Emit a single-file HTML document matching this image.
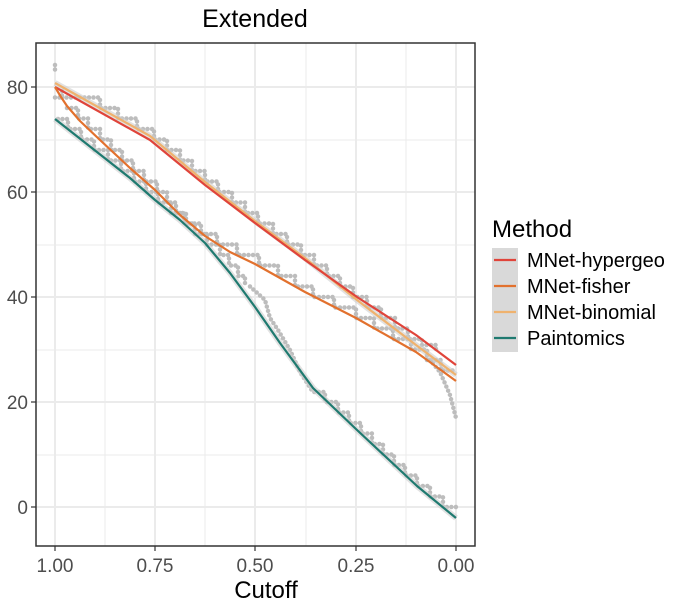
<!DOCTYPE html>
<html><head><meta charset="utf-8"><style>body{margin:0;background:#fff}svg{display:block;font-family:"Liberation Sans",Arial,sans-serif}</style></head>
<body>
<svg width="698" height="610" viewBox="0 0 698 610" xmlns="http://www.w3.org/2000/svg">
<rect width="698" height="610" fill="#fff"/>
<g stroke="#ebebeb" stroke-width="1">
<line x1="105" y1="43" x2="105" y2="546"/><line x1="205" y1="43" x2="205" y2="546"/><line x1="306" y1="43" x2="306" y2="546"/><line x1="406" y1="43" x2="406" y2="546"/>
<line x1="36" y1="140" x2="475" y2="140"/><line x1="36" y1="245" x2="475" y2="245"/><line x1="36" y1="350" x2="475" y2="350"/><line x1="36" y1="455" x2="475" y2="455"/>
</g>
<g stroke="#ebebeb" stroke-width="2">
<line x1="55" y1="43" x2="55" y2="546"/><line x1="155" y1="43" x2="155" y2="546"/><line x1="255" y1="43" x2="255" y2="546"/><line x1="356" y1="43" x2="356" y2="546"/><line x1="456" y1="43" x2="456" y2="546"/>
<line x1="36" y1="87" x2="475" y2="87"/><line x1="36" y1="192" x2="475" y2="192"/><line x1="36" y1="297" x2="475" y2="297"/><line x1="36" y1="402" x2="475" y2="402"/><line x1="36" y1="507" x2="475" y2="507"/>
</g>
<g fill="none" stroke="#bdbdbd" stroke-width="4.5" stroke-linecap="round" stroke-dasharray="0 4.5">
<path d="M55 97.5 H62 V87 M62 97.5 H100 V108 H118 V118.5 H137 V129 H154 V139.5 H167 V150 H180 V160.5 H192 V171 H205 V181.5 H218 V192 H232 V202.5 H245 V213 H258 V223.5 H273 V234 H287 V244.5 H301 V255 H314 V265.5 H327 V276 H340 V286.5 H353 V297 H367 V307.5 H381 V318 H395 V328.5 H408 V339 H422 V345 H436 V350 M430 360 L440 372 L450 395 L456 418"/>
<path d="M67 108 H78 V118.5 H88 V129 H100 V139.5 H111 V150 H122 V160.5 H133 V171 H144 V181.5 H157 V192 H167 V202.5 H176 V213 H186 V223.5 H201 V234 H217 V244.5 H237 V255 H259 V265.5 H278 V276 H295 V286.5 H313 V297 H334 V307.5 H356 V318 H374 V328.5 H393 V339 H411 V349.5 H427 V360 H441 V370.5 H456"/>
<path d="M58 119 H68 V129 H81 V139.5 H94 V150 H108 V160.5 H121 V171 H134 V181.5 H146 V192 H158 V202.5 H171 V213 H184 V223.5 H195 V234 H207 V244.5 H220 V255 H229 V265.5 H238 V276 H245 V286.5 M250 286.5 L265 300 L270 318 L278 330 L290 350 L300 372 L313 392 H325 V402 H338 V412.5 H349 V423 H361 V433.5 H372 V444 H383 V454.5 H394 V465 H405 V475.5 H417 V486 H430 V496.5 H443 V507 H456"/>
<path d="M55 65 V72"/>
</g>
<g fill="none" stroke-width="6" stroke="#cfcfcf" opacity="0.6" stroke-linejoin="round">
<polyline points="55,83 150,136 205,182 255,221 305,258 357,300 416,345 456,375"/>
<polyline points="55,119 130,178 155,200 180,220 205,243 230,273 255,307 280,343 313,388 357,430 417,486 456,518"/>
</g>
<g fill="none" stroke-width="2.2" stroke-linejoin="round">
<polyline stroke="#efb26e" points="55,83 150,136 205,182 255,221 305,258 357,300 416,345 456,375"/>
<polyline stroke="#e0443a" points="55,87 150,140 205,185 255,223 305,260 357,297 416,335 456,365"/>
<polyline stroke="#e2712e" points="55,87 61,97 67,106 80,121 100,140 130,168 155,190 180,215 205,236 230,252 255,264 280,278 305,292 356,318 416,352 456,381"/>
<polyline stroke="#1f7a70" points="55,119 130,178 155,200 180,220 205,243 230,273 255,307 280,343 313,388 357,430 417,486 456,518"/>
</g>
<rect x="36" y="43" width="439" height="503" fill="none" stroke="#333" stroke-width="1.5"/>
<g stroke="#333" stroke-width="1.2">
<line x1="31" y1="87" x2="36" y2="87"/><line x1="31" y1="192" x2="36" y2="192"/><line x1="31" y1="297" x2="36" y2="297"/><line x1="31" y1="402" x2="36" y2="402"/><line x1="31" y1="507" x2="36" y2="507"/>
<line x1="55" y1="546" x2="55" y2="551"/><line x1="155" y1="546" x2="155" y2="551"/><line x1="255" y1="546" x2="255" y2="551"/><line x1="356" y1="546" x2="356" y2="551"/><line x1="456" y1="546" x2="456" y2="551"/>
</g>
<g fill="#4d4d4d" font-size="19" text-anchor="end">
<text x="28" y="94">80</text><text x="28" y="199">60</text><text x="28" y="304">40</text><text x="28" y="409">20</text><text x="28" y="514">0</text>
</g>
<g fill="#4d4d4d" font-size="19" text-anchor="middle">
<text x="55" y="572">1.00</text><text x="155" y="572">0.75</text><text x="255" y="572">0.50</text><text x="356" y="572">0.25</text><text x="456" y="572">0.00</text>
</g>
<text x="255" y="27" font-size="25" text-anchor="middle">Extended</text>
<text x="266" y="598" font-size="24" text-anchor="middle">Cutoff</text>
<text x="492" y="237" font-size="24">Method</text>
<rect x="492" y="248" width="26" height="104" fill="#d9d9d9"/>
<g stroke-width="2.2">
<line x1="494" y1="260" x2="516" y2="260" stroke="#e0443a"/>
<line x1="494" y1="286" x2="516" y2="286" stroke="#e2712e"/>
<line x1="494" y1="312" x2="516" y2="312" stroke="#efb26e"/>
<line x1="494" y1="338" x2="516" y2="338" stroke="#1f7a70"/>
</g>
<g font-size="20" fill="#000">
<text x="527" y="267">MNet-hypergeo</text><text x="527" y="293">MNet-fisher</text><text x="527" y="319">MNet-binomial</text><text x="527" y="345">Paintomics</text>
</g>
</svg>
</body></html>
